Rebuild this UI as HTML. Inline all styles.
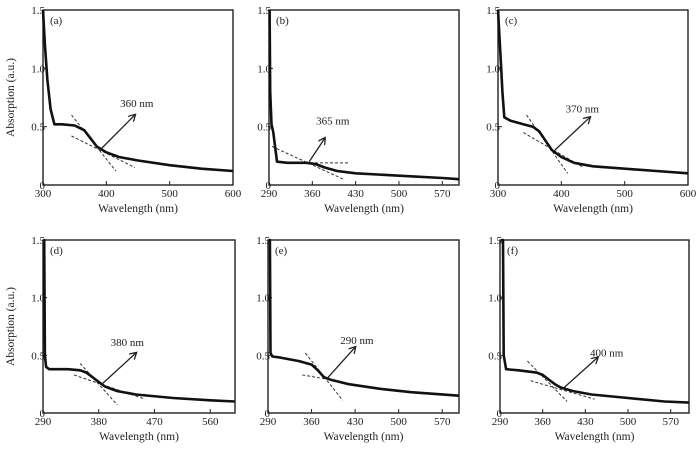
<!DOCTYPE html>
<html><head><meta charset="utf-8"><style>
html,body{margin:0;padding:0;background:#fff;}
svg{display:block;font-family:"Liberation Serif",serif;}
</style></head><body>
<svg id="chart" width="700" height="455" viewBox="0 0 700 455" xmlns="http://www.w3.org/2000/svg"></svg>
<script>
// ---- data ----
const panelIds = ['a','b','c','d','e','f'];
const wlA = [300,303,307,312,318,330,350,365,375,385,400,420,450,500,550,600];
const absA = [1.5,1.2,0.9,0.65,0.52,0.52,0.51,0.47,0.40,0.33,0.28,0.24,0.21,0.17,0.14,0.12];
const wlB = [291,292,294,297,303,320,350,365,380,400,430,500,570,597];
const absB = [1.5,0.8,0.52,0.45,0.2,0.19,0.19,0.18,0.15,0.12,0.10,0.08,0.06,0.05];
const wlC = [300,305,307,310,320,340,355,365,375,385,400,420,450,500,550,600];
const absC = [1.5,1.0,0.8,0.58,0.55,0.52,0.5,0.46,0.38,0.3,0.24,0.19,0.16,0.14,0.12,0.1];
const wlD = [291,292,293,295,300,330,350,360,370,380,390,410,440,500,560,600];
const absD = [1.5,1.5,0.5,0.4,0.38,0.38,0.37,0.35,0.31,0.27,0.23,0.19,0.16,0.13,0.11,0.10];
const wlE = [291,293,294,297,310,340,360,370,380,390,420,470,520,597];
const absE = [1.5,1.5,0.52,0.49,0.48,0.45,0.42,0.37,0.31,0.29,0.25,0.21,0.18,0.15];
const wlF = [292,295,296,300,320,350,360,370,380,390,410,440,500,560,600];
const absF = [1.5,1.5,0.5,0.38,0.37,0.35,0.33,0.29,0.25,0.22,0.19,0.16,0.13,0.10,0.09];
const bandGapLabels = ['360 nm','365 nm','370 nm','380 nm','290 nm','400 nm'];
const xTicksTop13 = [300,400,500,600];
const xTicks290a = [290,360,430,500,570];
const xTicks290b = [290,380,470,560];
const yTicks = [0,0.5,1.0,1.5];
const yTickLabels = ['0','0.5','1.0','1.5'];
// tangent lines [x1,y1,x2,y2] in data units
const tangentsA = [[345,0.6,415,0.12],[345,0.42,445,0.15]];
const tangentsB = [[295,0.33,410,0.05],[340,0.19,420,0.19]];
const tangentsC = [[345,0.6,410,0.1],[340,0.45,435,0.15]];
const tangentsD = [[350,0.43,410,0.07],[340,0.33,455,0.12]];
const tangentsE = [[350,0.52,410,0.11],[345,0.33,400,0.28]];
const tangentsF = [[335,0.45,400,0.1],[340,0.28,445,0.12]];
const arrowsData = [[390,0.3,445,0.6],[355,0.2,380,0.4],[390,0.3,445,0.58],[385,0.25,440,0.52],[385,0.3,430,0.57],[395,0.22,450,0.48]];
const labelPos = [[448,0.67],[393,0.52],[433,0.62],[426,0.58],[433,0.60],[465,0.49]];

const layout = [
 {L:43,R:233,T:10,B:185,x0:300,x1:600,ticks:xTicksTop13,wl:wlA,ab:absA,tg:tangentsA},
 {L:269,R:459,T:10,B:185,x0:290,x1:597,ticks:xTicks290a,wl:wlB,ab:absB,tg:tangentsB},
 {L:498,R:688,T:10,B:185,x0:300,x1:600,ticks:xTicksTop13,wl:wlC,ab:absC,tg:tangentsC},
 {L:43,R:235,T:240,B:413,x0:290,x1:600,ticks:xTicks290b,wl:wlD,ab:absD,tg:tangentsD},
 {L:268,R:459,T:240,B:413,x0:290,x1:597,ticks:xTicks290a,wl:wlE,ab:absE,tg:tangentsE},
 {L:500,R:689,T:240,B:413,x0:290,x1:600,ticks:xTicks290a,wl:wlF,ab:absF,tg:tangentsF}
];
const NS='http://www.w3.org/2000/svg';
const svg=document.getElementById('chart');
function mk(tag,attrs,parent,txt){const e=document.createElementNS(NS,tag);for(const k in attrs)e.setAttribute(k,attrs[k]);if(txt!==undefined)e.textContent=txt;(parent||svg).appendChild(e);return e;}
const defs=mk('defs',{});
const mkr=mk('marker',{id:'ah',markerWidth:8,markerHeight:8,refX:6,refY:4,orient:'auto',markerUnits:'userSpaceOnUse'},defs);
mk('path',{d:'M0,0 L7,4 L0,8',fill:'none',stroke:'#222','stroke-width':1.3},mkr);

layout.forEach((p,i)=>{
  const sx=v=>p.L+(v-p.x0)/(p.x1-p.x0)*(p.R-p.L);
  const sy=v=>p.B-v/1.5*(p.B-p.T);
  const g=mk('g',{});
  
  
  const fr=mk('rect',{x:p.L,y:p.T,width:p.R-p.L,height:p.B-p.T,fill:'none',stroke:'#222','stroke-width':1.4},g);
  
  
  p.ticks.forEach(t=>{
    const x=sx(t);
    mk('line',{x1:x,y1:p.B,x2:x,y2:p.B-4,stroke:'#222','stroke-width':1},g);
    const tl=mk('text',{x:x,y:p.B+12,'font-size':11,'text-anchor':'middle',fill:'#222'},g,String(t));
    
    
  });
  yTicks.forEach((t,j)=>{
    const y=sy(t);
    mk('line',{x1:p.L,y1:y,x2:p.L+4,y2:y,stroke:'#222','stroke-width':1},g);
    const tl=mk('text',{x:p.L+2,y:y+4,'font-size':11,'text-anchor':'end',fill:'#222'},g,yTickLabels[j]);
    
    
  });
  const xt=mk('text',{x:(p.L+p.R)/2,y:p.B+27,'font-size':11.5,'text-anchor':'middle',fill:'#222'},g,'Wavelength (nm)');
  
  
  if(p.L<100){
    const cy=(p.T+p.B)/2;
    const yt=mk('text',{x:14,y:cy,'font-size':11.5,'text-anchor':'middle',fill:'#222',transform:'rotate(-90 14 '+cy+')'},g,'Absorption (a.u.)');
    
    
  }
  const pl=mk('text',{x:p.L+7,y:p.T+14,'font-size':11,fill:'#222'},g,'('+panelIds[i]+')');
  
  
  p.tg.forEach(l=>{
    const tgl=mk('line',{x1:sx(l[0]),y1:sy(l[1]),x2:sx(l[2]),y2:sy(l[3]),stroke:'#333','stroke-width':1,'stroke-dasharray':'3,2'},g);
    
    
  });
  const d=p.wl.map((w,k)=>(k?'L':'M')+sx(w).toFixed(1)+','+sy(p.ab[k]).toFixed(1)).join(' ');
  const cv=mk('path',{d:d,fill:'none',stroke:'#111','stroke-width':2.6,'stroke-linejoin':'round'},g);
  
  
  const a=arrowsData[i];
  const ar=mk('line',{x1:sx(a[0]),y1:sy(a[1]),x2:sx(a[2]),y2:sy(a[3]),stroke:'#222','stroke-width':1.3,'marker-end':'url(#ah)'},g);
  
  
  const lp=labelPos[i];
  const bl=mk('text',{x:sx(lp[0]),y:sy(lp[1]),'font-size':11,'text-anchor':'middle',fill:'#222'},g,bandGapLabels[i]);
  
  
});
</script>
</body></html>
